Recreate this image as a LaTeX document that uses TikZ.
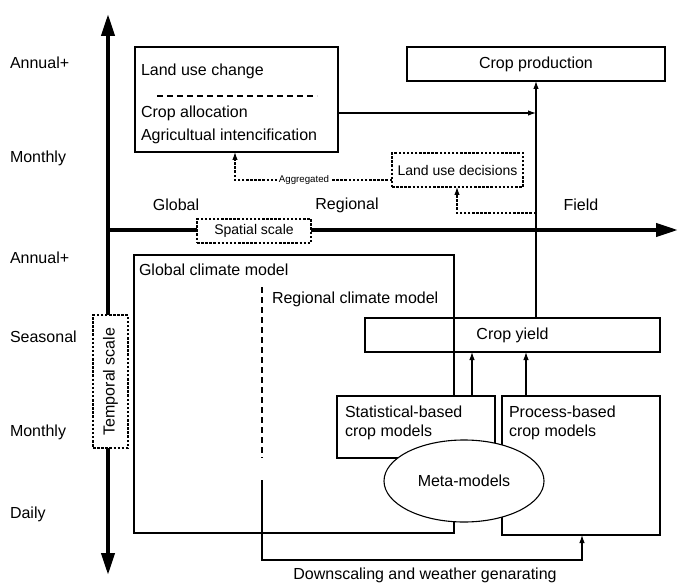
\documentclass[tikz,border=0pt]{standalone}
\usepackage{fontspec}
\setmainfont{Liberation Sans}
\usetikzlibrary{arrows.meta,shapes.geometric}
\begin{document}
\begin{tikzpicture}[x=1pt,y=-1pt,
  every node/.style={inner sep=0pt,outer sep=0pt},
  txt/.style={font=\fontsize{16}{19}\selectfont},
  smalltxt/.style={font=\fontsize{14}{17}\selectfont},
  tinytxt/.style={font=\fontsize{9.7}{11}\selectfont},
  box/.style={draw,line width=1.1pt,rectangle},
  wbox/.style={box,fill=white},
  dbox/.style={draw,line width=1.1pt,rectangle,fill=white,dash pattern=on 2.5pt off 1.6pt},
  dline/.style={line width=1.1pt,dash pattern=on 2.5pt off 1.6pt},
  axis/.style={line width=4pt},
  tip/.style={-{Latex[length=8pt,width=5.5pt]}},
  line/.style={line width=1.1pt}
]
\useasboundingbox (0,0) rectangle (678,583);

% axes
\coordinate (vtop) at (108,14);
\coordinate (vbot) at (108,575);
\coordinate (horg) at (106,230);
\coordinate (hend) at (678,230);
\draw[axis,{Triangle[length=22pt,width=13pt]}-{Triangle[length=22pt,width=13pt]}] (vbot) -- (vtop);
\draw[axis,-{Triangle[length=22pt,width=13pt]}] (horg) -- (hend);

% scale boxes
\node[dbox,minimum width=114pt,minimum height=24pt,smalltxt] (spatial) at (254,231) {Spatial scale};
\node[dbox,minimum width=35pt,minimum height=133pt] (temporal) at (110.5,381.5) {};
\node[txt,rotate=90] (temporaltxt) at (110.5,381.5) {Temporal scale};

% left labels
\node[txt,anchor=west] (a1) at (10,63) {Annual+};
\node[txt,anchor=west] (m1) at (10,158) {Monthly};
\node[txt,anchor=west] (a2) at (10,258) {Annual+};
\node[txt,anchor=west] (s1) at (10,337) {Seasonal};
\node[txt,anchor=west] (m2) at (10,432) {Monthly};
\node[txt,anchor=west] (d1) at (10,514) {Daily};

% spatial labels
\node[txt] (glob) at (176,205) {Global};
\node[txt] (reg) at (347,205) {Regional};
\node[txt] (field) at (581,205) {Field};

% land use box
\node[box,minimum width=203pt,minimum height=105pt] (lu) at (236.5,99.5) {};
\node[txt,anchor=west] (luc) at (141,71) {Land use change};
\node[txt,anchor=west] (ca) at (141,113) {Crop allocation};
\node[txt,anchor=west] (ai) at (141,136) {Agricultual intencification};
\coordinate (dl1) at (157,96);
\coordinate (dl2) at (317,96);
\draw[line,dash pattern=on 6pt off 4pt] (dl1) -- (dl2);

% crop production
\node[box,minimum width=258pt,minimum height=34pt,txt] (cp) at (536,64) {Crop production};

% land use decisions
\node[dbox,minimum width=131pt,minimum height=34pt,smalltxt] (lud) at (457.5,170) {Land use decisions};

% climate models
\node[box,minimum width=320pt,minimum height=278pt] (gcm) at (294,394) {};
\node[txt,anchor=west] (gcmt) at (139,270) {Global climate model};
\node[txt,anchor=west] (rcmt) at (272,299) {Regional climate model};
\coordinate (r1) at (262,287);
\coordinate (r2) at (262,458);
\coordinate (r3) at (262,480);
\coordinate (r4) at (262,560);
\coordinate (r5) at (582,560);
\draw[line,dash pattern=on 6pt off 4pt] (r1) -- (r2);

% crop yield
\node[box,minimum width=295pt,minimum height=34pt,txt] (cy) at (512.5,335) {Crop yield};
\draw[line,tip] (cy.north -| cp.south) -- (cp.south);
\coordinate (fieldline) at (536,213);
\draw[line,tip] (lu.east |- ca) -- (cp.south |- ca);

% crop model boxes
\node[wbox,minimum width=158pt,minimum height=62pt] (stat) at (416,427) {};
\node[txt,anchor=west,align=left] (statt) at (345,422.5) {Statistical-based\\crop models};
\node[wbox,minimum width=158pt,minimum height=139pt] (proc) at (581,465.5) {};
\node[txt,anchor=west,align=left] (proct) at (509,422.5) {Process-based\\crop models};
\node[ellipse,draw,line width=1.1pt,fill=white,minimum width=160pt,minimum height=82pt,txt] (meta) at (464,481) {Meta-models};

\draw[line,tip] (stat.north -| 472,0) -- (cy.south -| 472,0);
\draw[line,tip] (proc.north -| 526,0) -- (cy.south -| 526,0);

% downscaling
\draw[line,tip] (r3) -- (r4) -- (r5) -- (proc.south -| r5);
\node[txt] (down) at (425,575) {Downscaling and weather genarating};

% dashed feedbacks
\draw[dline,tip] (fieldline) -- (fieldline -| 457,0) -- (lud.south -| 457,0);
\coordinate (agg) at (235,180);
\draw[dline,tip] (lud.west |- agg) -- (agg) -- (lu.south -| agg);
\node[tinytxt,fill=white,inner xsep=2pt,inner ysep=1pt] (aggt) at (304,180) {Aggregated};
\end{tikzpicture}
\end{document}
